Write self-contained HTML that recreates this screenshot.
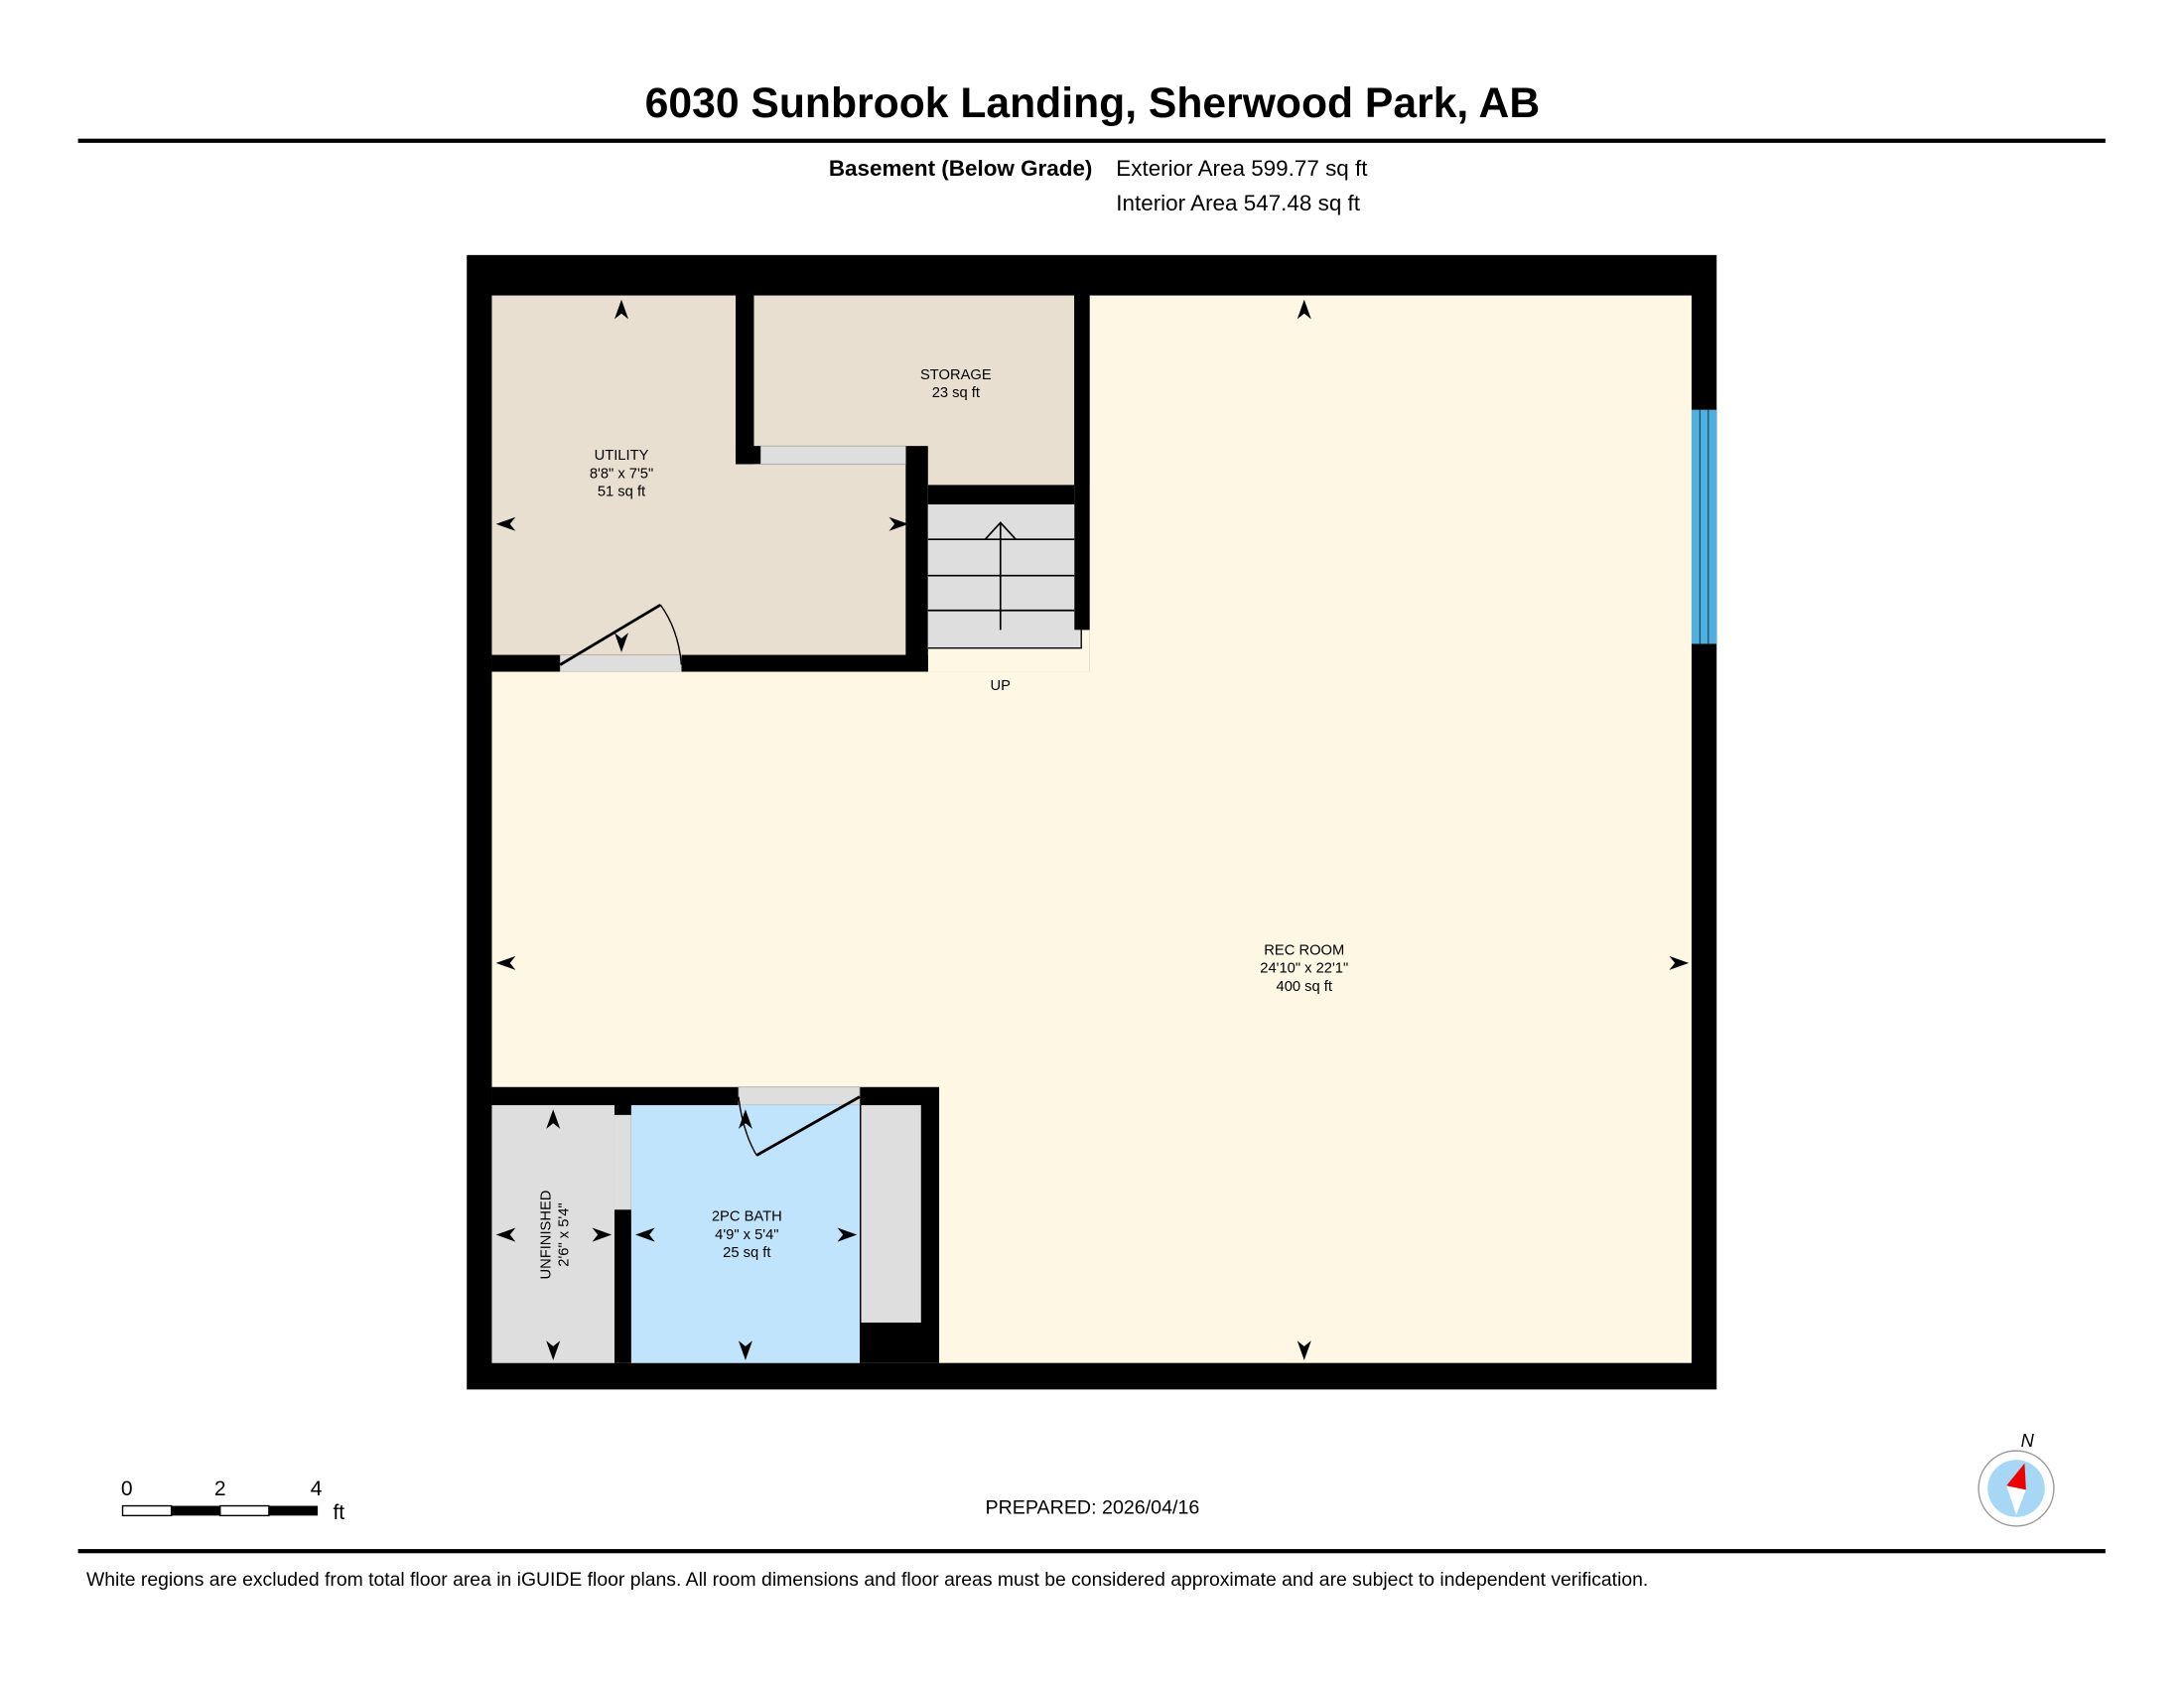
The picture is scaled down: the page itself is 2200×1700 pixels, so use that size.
<!DOCTYPE html>
<html><head><meta charset="utf-8">
<style>
html,body{margin:0;padding:0;background:#fff;}
svg{display:block;}
text{font-family:"Liberation Sans",Arial,sans-serif;fill:#000;}
</style></head>
<body>
<svg width="2200" height="1700" viewBox="0 0 1567.4 1211.2" preserveAspectRatio="none" xmlns="http://www.w3.org/2000/svg">
<defs>
<polygon id="au" points="0,0 -5,14 0,10 5,14"/>
</defs>
<rect width="1567.4" height="1211.2" fill="#fff"/>
<!-- header -->
<text x="784" y="84" font-size="30.4" font-weight="bold" text-anchor="middle">6030 Sunbrook Landing, Sherwood Park, AB</text>
<rect x="56" y="99.5" width="1455" height="3" fill="#000"/>
<text x="784" y="126" font-size="16" font-weight="bold" text-anchor="end">Basement (Below Grade)</text>
<text x="801" y="126" font-size="16">Exterior Area 599.77 sq ft</text>
<text x="801" y="151" font-size="16">Interior Area 547.48 sq ft</text>

<!-- outer walls -->
<rect x="335" y="183" width="897" height="814" fill="#000"/>
<!-- rec room -->
<rect x="353" y="212" width="861" height="766" fill="#fdf7e4"/>
<!-- utility / storage block -->
<rect x="353" y="212" width="429" height="270" fill="#000"/>
<rect x="353" y="212" width="175" height="258" fill="#e8dfd0"/>
<rect x="527" y="333" width="126" height="137" fill="#e8dfd0"/>
<rect x="541" y="212" width="230" height="136" fill="#e8dfd0"/>
<rect x="528" y="212" width="13" height="121" fill="#000"/>
<rect x="528" y="320" width="18" height="13" fill="#000"/>
<rect x="650" y="320" width="16" height="162" fill="#000"/>
<rect x="546" y="320" width="104" height="13" fill="#dedede" stroke="#999" stroke-width="0.5"/>
<rect x="666" y="348" width="116" height="134" fill="#fdf7e4"/>
<rect x="666" y="348" width="105" height="14" fill="#000"/>
<rect x="771" y="212" width="11" height="240" fill="#000"/>
<!-- stairs -->
<rect x="666" y="362" width="105" height="103" fill="#dedede"/>
<rect x="771" y="452" width="4" height="13" fill="#dedede"/>
<path d="M666,465 H776 V452" fill="none" stroke="#000" stroke-width="1"/>
<line x1="666" y1="387" x2="771" y2="387" stroke="#000" stroke-width="1.2"/>
<line x1="666" y1="413" x2="771" y2="413" stroke="#000" stroke-width="1.2"/>
<line x1="666" y1="438" x2="771" y2="438" stroke="#000" stroke-width="1.2"/>
<path d="M718,452 V375 M707,387 L718,375 L729,387" fill="none" stroke="#000" stroke-width="1.2"/>
<!-- utility bottom wall + door -->
<rect x="353" y="470" width="313" height="12" fill="#000"/>
<rect x="402" y="470" width="87" height="12" fill="#dedede" stroke="#999" stroke-width="0.5"/>
<line x1="402" y1="477" x2="474" y2="434" stroke="#000" stroke-width="2"/>
<path d="M474,434 Q487,452 489,477" fill="none" stroke="#000" stroke-width="1"/>
<rect x="353" y="482" width="313" height="2" fill="#fdf7e4"/>
<!-- bath block -->
<rect x="353" y="780" width="321" height="198" fill="#000"/>
<rect x="530" y="780" width="87" height="13" fill="#dedede" stroke="#999" stroke-width="0.5"/>
<rect x="353" y="793" width="88" height="185" fill="#dedede"/>
<rect x="441" y="800" width="12" height="68" fill="#dedede"/>
<rect x="453" y="793" width="164" height="185" fill="#c0e4fb"/>
<rect x="618" y="793" width="43" height="156" fill="#dedede"/>
<line x1="617.5" y1="793" x2="617.5" y2="950" stroke="#000" stroke-width="1"/>
<line x1="617" y1="787" x2="543" y2="829" stroke="#000" stroke-width="2"/>
<path d="M530,787 Q533,812 543,829" fill="none" stroke="#000" stroke-width="1"/>
<!-- window -->
<rect x="1214" y="294" width="18" height="168" fill="#4fb0e0"/>
<line x1="1220" y1="294" x2="1220" y2="462" stroke="#1a3d55" stroke-width="0.8"/>
<line x1="1226" y1="294" x2="1226" y2="462" stroke="#1a3d55" stroke-width="0.8"/>

<!-- arrows -->
<g fill="#000">
<use href="#au" transform="translate(446,215)"/>
<use href="#au" transform="translate(356,376) rotate(-90)"/>
<use href="#au" transform="translate(652,376) rotate(90)"/>
<use href="#au" transform="translate(446,468) rotate(180)"/>
<use href="#au" transform="translate(936,215)"/>
<use href="#au" transform="translate(356,691) rotate(-90)"/>
<use href="#au" transform="translate(1212,691) rotate(90)"/>
<use href="#au" transform="translate(936,976) rotate(180)"/>
<use href="#au" transform="translate(397,796)"/>
<use href="#au" transform="translate(356,886) rotate(-90)"/>
<use href="#au" transform="translate(439,886) rotate(90)"/>
<use href="#au" transform="translate(397,976) rotate(180)"/>
<use href="#au" transform="translate(535,796)"/>
<use href="#au" transform="translate(456,886) rotate(-90)"/>
<use href="#au" transform="translate(615,886) rotate(90)"/>
<use href="#au" transform="translate(535,976) rotate(180)"/>
</g>

<!-- room labels -->
<g font-size="10.5" text-anchor="middle">
<text x="446" y="330">UTILITY</text>
<text x="446" y="343">8'8" x 7'5"</text>
<text x="446" y="356">51 sq ft</text>
<text x="686" y="272">STORAGE</text>
<text x="686" y="285">23 sq ft</text>
<text x="718" y="495">UP</text>
<text x="936" y="685">REC ROOM</text>
<text x="936" y="698">24'10" x 22'1"</text>
<text x="936" y="711">400 sq ft</text>
<text x="536" y="876">2PC BATH</text>
<text x="536" y="889">4'9" x 5'4"</text>
<text x="536" y="902">25 sq ft</text>
<text transform="translate(395,886) rotate(-90)">UNFINISHED</text>
<text transform="translate(408,886) rotate(-90)">2'6" x 5'4"</text>
</g>

<!-- scale bar -->
<rect x="88" y="1080.5" width="35" height="7" fill="#fff" stroke="#000" stroke-width="1"/>
<rect x="123" y="1080.5" width="35" height="7" fill="#000"/>
<rect x="158" y="1080.5" width="35" height="7" fill="#fff" stroke="#000" stroke-width="1"/>
<rect x="193" y="1080.5" width="35" height="7" fill="#000"/>
<text x="91" y="1073" font-size="15" text-anchor="middle">0</text>
<text x="158" y="1073" font-size="15" text-anchor="middle">2</text>
<text x="227" y="1073" font-size="15" text-anchor="middle">4</text>
<text x="239" y="1090" font-size="15">ft</text>
<text x="784" y="1086" font-size="14" text-anchor="middle">PREPARED: 2026/04/16</text>

<!-- compass -->
<circle cx="1447" cy="1068" r="27" fill="#fff" stroke="#999" stroke-width="1"/>
<circle cx="1447" cy="1068" r="20.5" fill="#a6d8f6"/>
<polygon points="1440,1066 1454,1069 1447,1087" fill="#fff"/>
<polygon points="1453,1050 1440,1066 1454,1069" fill="#e00"/>
<text x="1455" y="1038" font-size="13" font-style="italic" text-anchor="middle">N</text>

<rect x="56" y="1111.5" width="1455" height="3" fill="#000"/>
<text x="62" y="1138" font-size="13.8">White regions are excluded from total floor area in iGUIDE floor plans. All room dimensions and floor areas must be considered approximate and are subject to independent verification.</text>
</svg>
</body></html>
